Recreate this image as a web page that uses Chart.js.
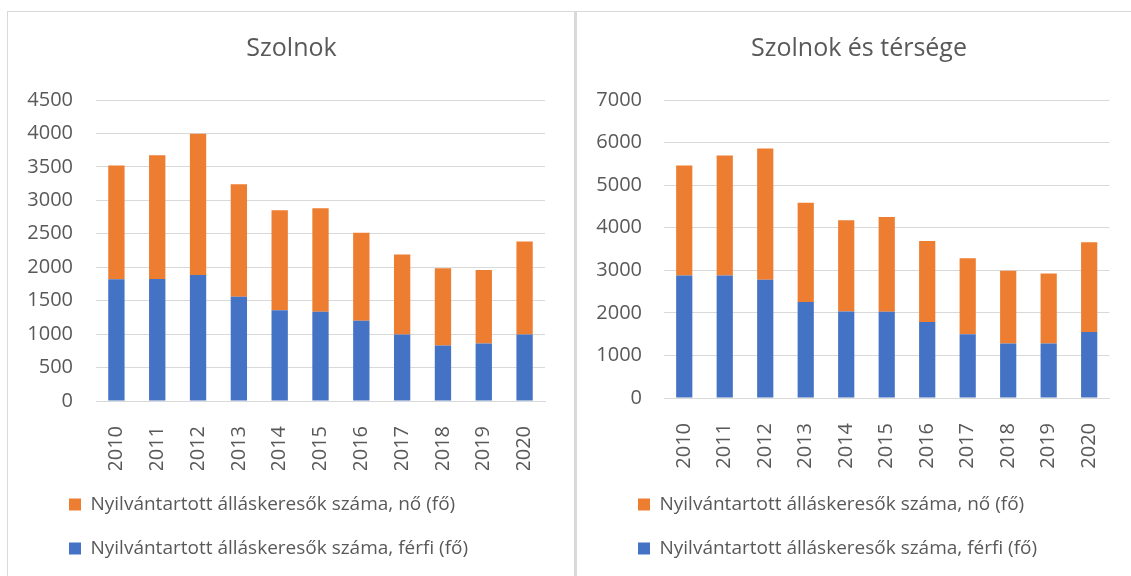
<!DOCTYPE html>
<html>
<head>
<meta charset="utf-8">
<script src="https://cdn.jsdelivr.net/npm/chart.js@4"></script>
<style>
  body { margin: 0; background: #fff; width: 1131px; height: 576px; overflow: hidden; position: relative; }
  .panel { position: absolute; top: 11px; height: 565px; border-top: 1px solid #d9d9d9; }
  #panelLeft { left: 7px; width: 567px; border-left: 1px solid #d9d9d9; }
  #panelRight { left: 577px; width: 554px; }
  #divider { position: absolute; left: 574px; top: 11px; width: 3px; height: 565px; background: #d9d9d9; }
  canvas { position: absolute; top: 0; left: 0; }
</style>
</head>
<body>
<div class="panel" id="panelLeft"><canvas id="chartSzolnok" width="566" height="564"></canvas></div>
<div id="divider"></div>
<div class="panel" id="panelRight"><canvas id="chartTerseg" width="554" height="564"></canvas></div>
<script>
// years on the x axis
const years = ['2010', '2011', '2012', '2013', '2014', '2015', '2016', '2017', '2018', '2019', '2020'];

// Szolnok (fő)
const szolnokFerfi = [1820, 1825, 1885, 1560, 1355, 1335, 1200, 995, 830, 860, 995];
const szolnokNo = [1700, 1850, 2110, 1680, 1495, 1545, 1315, 1195, 1155, 1100, 1390];

// Szolnok és térsége (fő)
const tersegFerfi = [2880, 2880, 2775, 2255, 2030, 2025, 1785, 1500, 1280, 1280, 1550];
const tersegNo = [2580, 2815, 3085, 2330, 2145, 2225, 1905, 1780, 1710, 1645, 2110];

const labelNo = 'Nyilvántartott álláskeresők száma, nő (fő)';
const labelFerfi = 'Nyilvántartott álláskeresők száma, férfi (fő)';

const textColor = '#595959';
const gridColor = '#d9d9d9';

Chart.defaults.font.family = "'Open Sans', sans-serif";
Chart.defaults.color = textColor;

// push the legend and title blocks in a bit, like the Excel original
const blockShift = {
    id: 'blockShift',
    afterLayout(chart, args, opts) {
        chart.legend.left += opts.legendDx;
        chart.legend.right += opts.legendDx;
        chart.titleBlock.left += opts.titleDx;
        chart.titleBlock.right += opts.titleDx;
    }
};

function makeChart(id, title, ferfi, no, cfg) {
    return new Chart(document.getElementById(id), {
        type: 'bar',
        data: {
            labels: years,
            datasets: [
                { label: labelFerfi, data: ferfi, backgroundColor: '#4472c4', barPercentage: 0.4, categoryPercentage: 1 },
                { label: labelNo, data: no, backgroundColor: '#ed7d31', barPercentage: 0.4, categoryPercentage: 1 }
            ]
        },
        plugins: [blockShift],
        options: {
            responsive: false,
            animation: false,
            layout: { padding: { left: 10, right: cfg.padRight, top: 0, bottom: 8 } },
            plugins: {
                title: {
                    display: true, text: title, color: textColor,
                    font: { size: 25, weight: 'normal' },
                    padding: { top: 22, bottom: 36 }
                },
                legend: {
                    position: 'bottom', align: 'start', reverse: true,
                    labels: { boxWidth: 12, boxHeight: 12, padding: 25, color: textColor, font: { size: 19 } }
                },
                blockShift: { legendDx: 26, titleDx: cfg.titleDx },
                tooltip: { enabled: false }
            },
            scales: {
                x: {
                    stacked: true,
                    grid: { display: false },
                    border: { color: gridColor },
                    ticks: { minRotation: 90, maxRotation: 90, autoSkip: false, padding: 17, font: { size: 20 } },
                    afterFit: s => { s.height = cfg.xHeight; }
                },
                y: {
                    stacked: true,
                    min: 0, max: cfg.max,
                    grid: { color: gridColor, drawTicks: false },
                    border: { display: false },
                    ticks: { stepSize: cfg.step, padding: cfg.tickPad, font: { size: 20 }, callback: v => String(v) },
                    afterFit: s => { s.width = cfg.yWidth; }
                }
            }
        }
    });
}

makeChart('chartSzolnok', 'Szolnok', szolnokFerfi, szolnokNo,
    { max: 4500, step: 500, padRight: 29, xHeight: 69, yWidth: 78, tickPad: 23, titleDx: 10 });
makeChart('chartTerseg', 'Szolnok és térsége', tersegFerfi, tersegNo,
    { max: 7000, step: 1000, padRight: 18, xHeight: 72, yWidth: 77, tickPad: 22, titleDx: 9 });
</script>
</body>
</html>
